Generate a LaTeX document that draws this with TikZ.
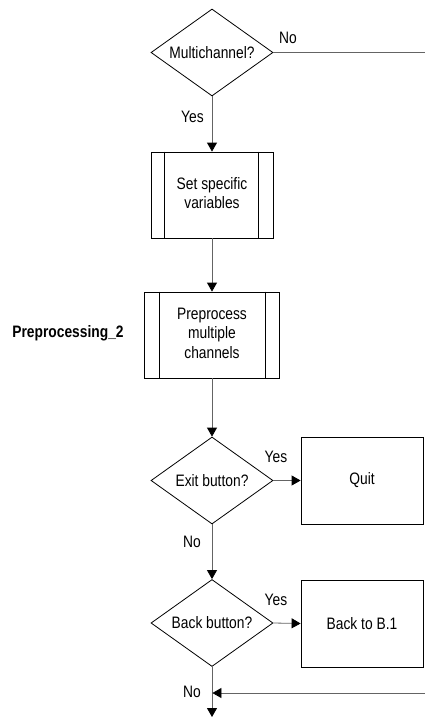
\documentclass[tikz,border=0pt]{standalone}
\usepackage{fontspec}
\setmainfont{Liberation Sans}
\usetikzlibrary{shapes.geometric,arrows.meta}
\definecolor{linegray}{RGB}{100,100,100}
\newcommand{\vs}[1]{\scalebox{1}[1.2]{#1}}
\newcommand{\ml}[1]{\vs{\begin{tabular}{@{}c@{}}#1\end{tabular}}}
\begin{document}
\begin{tikzpicture}[x=1pt,y=-1pt,
  every node/.style={font=\fontsize{13.8}{16}\selectfont},
  dec/.style={diamond,draw,line width=0.8pt,inner sep=0pt,aspect=1.4,minimum width=122pt,minimum height=87pt},
  pbox/.style={rectangle,draw,line width=0.8pt,inner sep=0pt,minimum height=86pt},
  act/.style={rectangle,draw,line width=0.8pt,inner sep=0pt,minimum width=122pt,minimum height=87pt},
  inner/.style={line width=0.8pt},
  conn/.style={draw=linegray,line width=0.8pt},
  arr/.style={conn,-{Triangle[length=9pt,width=10pt,color=black]}},
  lbl/.style={inner sep=0pt}
]
\useasboundingbox (0,0) rectangle (425,717);

\node[dec] (d1) at (212,52.5) {\vs{Multichannel?}};
\node[pbox,minimum width=122pt] (b1) at (212,195) {\ml{Set specific\\variables}};
\draw[inner] ([xshift=14pt]b1.north west) -- ([xshift=14pt]b1.south west);
\draw[inner] ([xshift=-15pt]b1.north east) -- ([xshift=-15pt]b1.south east);
\node[pbox,minimum width=135pt] (b2) at (212,335) {\ml{Preprocess\\multiple\\channels}};
\draw[inner] ([xshift=15pt]b2.north west) -- ([xshift=15pt]b2.south west);
\draw[inner] ([xshift=-15pt]b2.north east) -- ([xshift=-15pt]b2.south east);
\node[lbl,font=\fontsize{13.8}{16}\selectfont\bfseries] (pl) at (68,333) {\vs{Preprocessing\_2}};
\node[dec] (d2) at (212,480.5) {\vs{Exit button?}};
\node[act] (q) at (362,480.5) {\vs{Quit}};
\node[dec] (d3) at (212,623) {\vs{Back button?}};
\node[act] (bk) at (362,623.5) {\vs{Back to B.1}};

\node[lbl] (no1) at (288,38) {\vs{No}};
\node[lbl] (yes1) at (192.5,117) {\vs{Yes}};
\node[lbl] (yes2) at (276,457) {\vs{Yes}};
\node[lbl] (no2) at (192,542) {\vs{No}};
\node[lbl] (yes3) at (276,600) {\vs{Yes}};
\node[lbl] (no3) at (192,692) {\vs{No}};

\coordinate (e1) at (425,52.5);
\coordinate (e2) at (425,693);
\coordinate (j) at (212.4,693);
\coordinate (bot) at (212,717);

\draw[conn] (d1.east) -- (e1);
\draw[arr] (d1.south) -- (b1.north);
\draw[arr] (b1.south) -- (b2.north);
\draw[arr] (b2.south) -- (d2.north);
\draw[arr] (d2.east) -- (q.west);
\draw[arr] (d2.south) -- (d3.north);
\draw[arr] (d3.east) -- (bk.west);
\draw[arr] (d3.south) -- (bot);
\draw[arr] (e2) -- (j);
\end{tikzpicture}
\end{document}
